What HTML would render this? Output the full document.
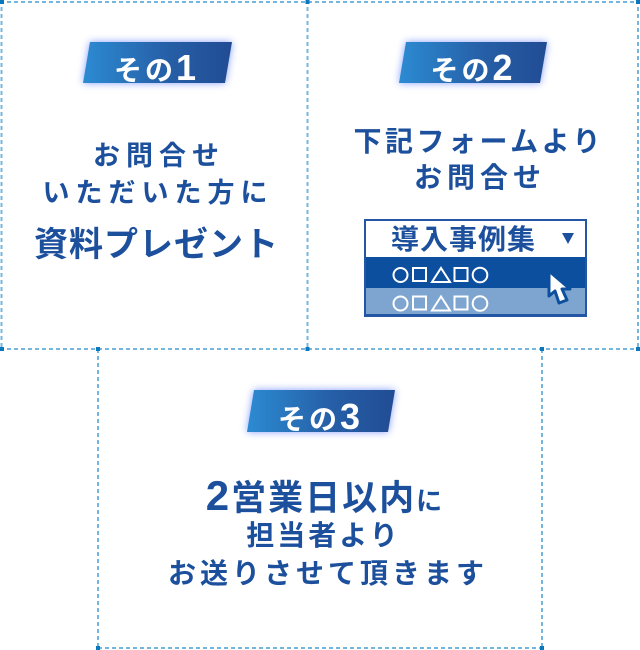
<!DOCTYPE html>
<html><head><meta charset="utf-8">
<style>
html,body{margin:0;padding:0;background:#fff;}
body{width:640px;height:650px;position:relative;overflow:hidden;}
svg.bg{position:absolute;left:0;top:0;}
.t{position:absolute;width:400px;text-align:center;white-space:nowrap;line-height:1;font-weight:700;color:#1c4f9c;font-family:"Liberation Sans","Noto Sans CJK JP",sans-serif;box-sizing:border-box;}
.w{color:#fff;}
</style></head>
<body>
<svg class="bg" width="640" height="650" viewBox="0 0 640 650" xmlns="http://www.w3.org/2000/svg">
  <defs>
    <linearGradient id="g" x1="0" y1="0" x2="1" y2="0">
      <stop offset="0" stop-color="#2c8bd2"/>
      <stop offset="0.55" stop-color="#2660a8"/>
      <stop offset="1" stop-color="#214c94"/>
    </linearGradient>
    <filter id="blur" x="-20%" y="-50%" width="140%" height="200%">
      <feGaussianBlur stdDeviation="4"/>
    </filter>
  </defs>
  <g stroke="#74b6dd" stroke-width="2" stroke-dasharray="4 3" fill="none">
    <line x1="0" y1="2" x2="640" y2="2"/>
    <line x1="1.5" y1="0" x2="1.5" y2="349"/>
    <line x1="307.5" y1="0" x2="307.5" y2="349"/>
    <line x1="638" y1="0" x2="638" y2="349"/>
    <line x1="0" y1="349" x2="640" y2="349"/>
    <line x1="98" y1="349" x2="98" y2="648"/>
    <line x1="542" y1="349" x2="542" y2="648"/>
    <line x1="98" y1="648" x2="542" y2="648"/>
  </g>
  <g fill="#0a78be">
    <rect x="0" y="0" width="4" height="4"/>
    <rect x="305.5" y="0" width="4" height="4"/>
    <rect x="636" y="0" width="4" height="4"/>
    <rect x="0" y="347" width="4" height="4"/>
    <rect x="96" y="347" width="4" height="4"/>
    <rect x="305.5" y="347" width="4" height="4"/>
    <rect x="540" y="347" width="4" height="4"/>
    <rect x="636" y="347" width="4" height="4"/>
    <rect x="96" y="646" width="4" height="4"/>
    <rect x="540" y="646" width="4" height="4"/>
  </g>
  <g fill="#6f8cff" opacity="0.85" filter="url(#blur)">
    <polygon points="90,42 232,42 225,83 83,83"/>
    <polygon points="406,42 547,42 540,83 399,83"/>
    <polygon points="254,390 395,390 388,432 247,432"/>
  </g>
  <g fill="url(#g)">
    <polygon points="90,42 232,42 225,83 83,83"/>
    <polygon points="406,42 547,42 540,83 399,83"/>
    <polygon points="254,390 395,390 388,432 247,432"/>
  </g>
  <rect x="365" y="220" width="221" height="96" fill="#fff" stroke="#2456a4" stroke-width="2"/>
  <rect x="366" y="257" width="219" height="31" fill="#0d4f9f"/>
  <rect x="366" y="288" width="219" height="27" fill="#7ea5cf"/>
  <rect x="364" y="314" width="223" height="3" fill="#2456a4"/>
  <polygon points="562,233 574,233 568,244" fill="#1c4f9c"/>
  <g stroke="#fff" stroke-width="2" fill="none">
    <circle cx="400.5" cy="275" r="7"/>
    <rect x="413" y="268" width="13" height="13"/>
    <polygon points="432,282 441,268 450,282"/>
    <rect x="454.5" y="268" width="13" height="13"/>
    <circle cx="480" cy="275" r="7.3"/>
    <circle cx="400.5" cy="303.5" r="7"/>
    <rect x="413" y="296.5" width="13" height="13"/>
    <polygon points="432,310.5 441,296.5 450,310.5"/>
    <rect x="454.5" y="296.5" width="13" height="13"/>
    <circle cx="480" cy="303.5" r="7.3"/>
  </g>
  <polygon points="549,271 549,296 555,291 559,303 567,300 562,289 570,289" fill="#fff" stroke="#0d4f9f" stroke-width="3" stroke-linejoin="round"/>
</svg>

<div class="t w" style="left:-45px;top:50px;font-size:28px;letter-spacing:3px;padding-left:3px">その<span style="font-size:36px">1</span></div>
<div class="t w" style="left:271.5px;top:50px;font-size:28px;letter-spacing:3px;padding-left:3px">その<span style="font-size:36px">2</span></div>
<div class="t w" style="left:119px;top:399px;font-size:28px;letter-spacing:3px;padding-left:3px">その<span style="font-size:36px">3</span></div>

<div class="t" style="left:-44px;top:143px;font-size:27px;letter-spacing:6px;padding-left:6px">お問合せ</div>
<div class="t" style="left:-45px;top:180px;font-size:27px;letter-spacing:6px;padding-left:6px">いただいた方に</div>
<div class="t" style="left:-44px;top:228px;font-size:34px;letter-spacing:1px;padding-left:1px">資料プレゼント</div>

<div class="t" style="left:277px;top:128px;font-size:28px;letter-spacing:3.5px;padding-left:3.5px">下記フォームより</div>
<div class="t" style="left:277.5px;top:164px;font-size:28px;letter-spacing:5px;padding-left:5px">お問合せ</div>
<div class="t" style="left:263px;top:225.5px;font-size:28px;letter-spacing:1px;padding-left:1px">導入事例集</div>

<div class="t" style="left:124px;top:475px;font-size:35px;letter-spacing:2px;padding-left:2px"><span style="font-size:42px">2</span>営業日以内<span style="font-size:26px">に</span></div>
<div class="t" style="left:122px;top:522px;font-size:28px;letter-spacing:3px;padding-left:3px">担当者より</div>
<div class="t" style="left:126px;top:560px;font-size:28px;letter-spacing:4px;padding-left:4px">お送りさせて頂きます</div>
</body></html>
